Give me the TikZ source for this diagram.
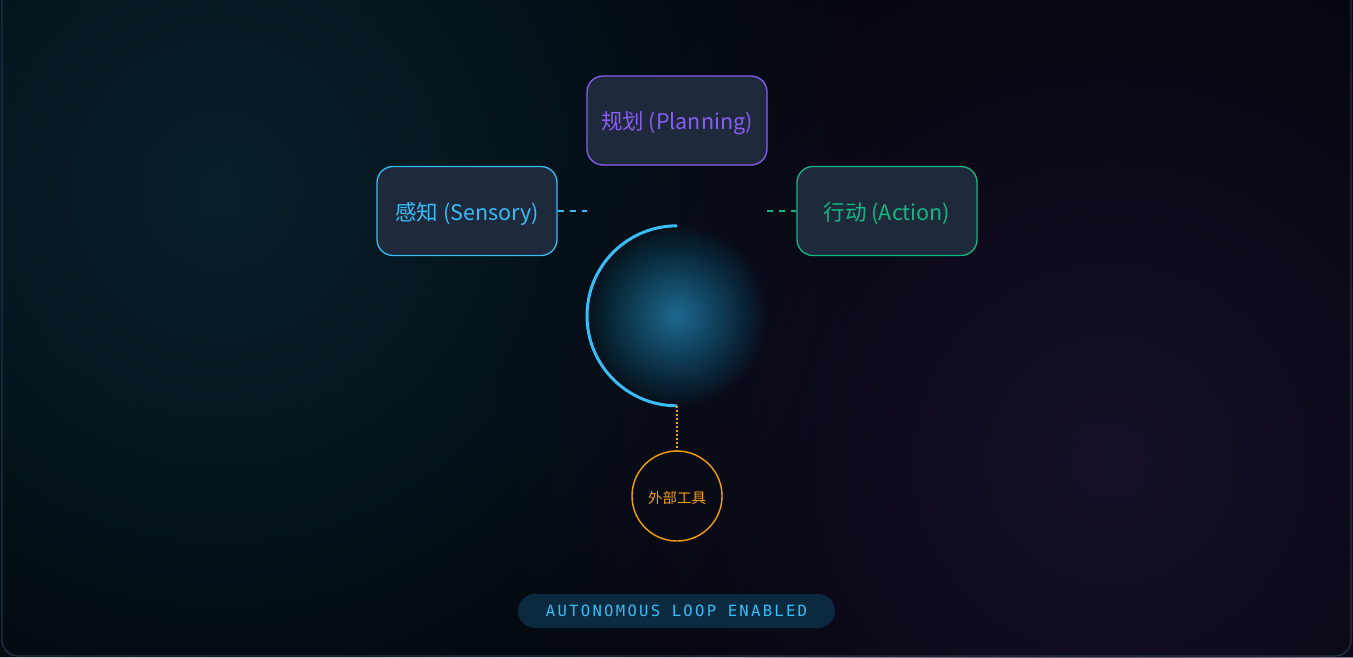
\documentclass[tikz,border=0pt]{standalone}
\usepackage{fontspec}
\newfontfamily\cjk{Noto Sans CJK SC}
\newfontfamily\monob[LetterSpace=15]{DejaVu Sans Mono}
\usetikzlibrary{fadings}
\tikzfading[name=glowout, inner color=transparent!0, outer color=transparent!100]
\definecolor{bgbase}{HTML}{030509}
\definecolor{tealglow}{HTML}{07202A}
\definecolor{purpglow}{HTML}{160F28}
\definecolor{framec}{HTML}{243247}
\definecolor{boxfill}{HTML}{1E293B}
\definecolor{skyc}{HTML}{38BDF8}
\definecolor{violetc}{HTML}{8B5CF6}
\definecolor{emeraldc}{HTML}{10B981}
\definecolor{amberc}{HTML}{F59E0B}
\definecolor{badgefill}{HTML}{0B2A3F}
\tikzset{
  stagebox/.style={draw, line width=1.3pt, fill=boxfill, rounded corners=16pt,
    minimum width=180pt, minimum height=89pt, inner sep=0pt,
    text height=21pt, text depth=2.6pt,
    font=\cjk\fontsize{21.5}{24}\selectfont},
  linkdash/.style={line width=1.8pt, dash pattern=on 6pt off 6pt},
}
\begin{document}
\begin{tikzpicture}[x=1pt,y=-1pt]
\useasboundingbox (0,0) rectangle (1353,657);
\clip (0,0) rectangle (1353,657);
\fill[bgbase] (0,0) rectangle (1353,657);
\fill[tealglow, path fading=glowout] (220,190) circle (680);
\fill[purpglow, path fading=glowout] (1110,460) circle (620);
\draw[framec, line width=1.3pt, rounded corners=16pt] (2,-40) rectangle (1351,656);

% core glow
\node[circle, minimum size=180pt, inner sep=0pt] (core) at (677,316) {};
\foreach \k in {1,...,30}{
  \pgfmathsetmacro{\rr}{90-3*(\k-1)}
  \pgfmathsetmacro{\aa}{(0.56/30)/(1-0.56*(\k-1)/30)}
  \fill[skyc, opacity=\aa] (core.center) circle (\rr);
}
\draw[skyc, line width=3pt] (core.north) arc[start angle=270, end angle=90, radius=90];

% stages
\node[stagebox, draw=violetc, text=violetc] (plan) at (677,120.5) {规划 (Planning)};
\node[stagebox, draw=skyc, text=skyc] (sense) at (467,211) {感知 (Sensory)};
\node[stagebox, draw=emeraldc, text=emeraldc] (act) at (887,211) {行动 (Action)};

\coordinate (senseend) at (587,211);
\coordinate (actstart) at (767,211);
\draw[skyc, linkdash] (sense.east) -- (senseend);
\draw[emeraldc, linkdash] (actstart) -- (act.west);

% external tools
\node[circle, draw=amberc, line width=1.4pt, minimum size=90pt, inner sep=0pt,
      text height=16pt, text depth=2pt,
      text=amberc, font=\cjk\fontsize{14.5}{17}\selectfont] (tool) at (677,496) {外部工具};
\draw[amberc, line width=1.6pt, dash pattern=on 2pt off 2pt] (core.south) -- (tool.north);

% badge
\node[fill=badgefill, rounded corners=17pt, minimum width=317pt, minimum height=34pt,
      inner sep=0pt, text=skyc, font=\monob\fontsize{15.5}{17}\selectfont] (badge) at (676.5,611) {AUTONOMOUS LOOP ENABLED};
\end{tikzpicture}
\end{document}
